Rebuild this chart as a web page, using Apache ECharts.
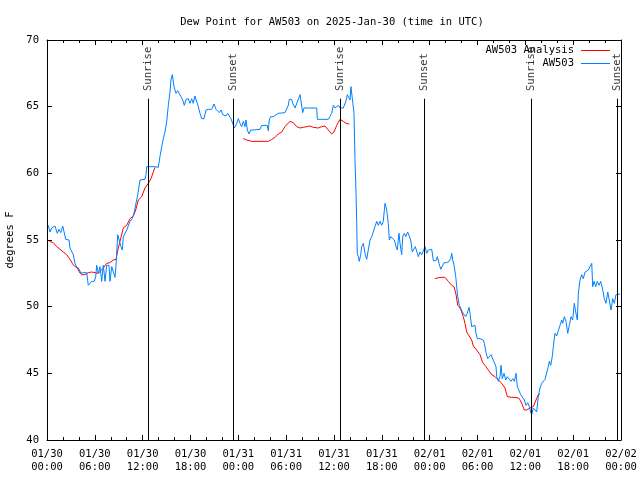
<!DOCTYPE html>
<html>
<head>
<meta charset="utf-8">
<script src="https://cdn.jsdelivr.net/npm/echarts@6/dist/echarts.min.js"></script>
<style>html,body{margin:0;padding:0;background:#fff}#c{width:640px;height:480px}</style>
</head>
<body>
<div id="c"></div>
<script>
// hours since 2025-01-30 00:00 UTC
const blueHours = [0.16,0.38,0.59,1.00,1.29,1.51,1.72,1.97,2.13,2.35,2.60,2.76,2.89,3.10,3.30,3.51,3.73,3.93,4.14,4.35,4.55,4.98,5.18,5.39,5.61,5.93,6.11,6.23,6.44,6.65,6.86,7.06,7.28,7.49,7.78,7.90,8.12,8.32,8.53,8.66,8.87,9.07,9.28,9.45,9.57,9.78,10.00,10.20,10.41,10.70,10.95,11.16,11.38,11.58,11.67,11.88,12.29,12.42,12.51,13.55,13.96,14.17,14.39,14.59,14.80,15.02,15.22,15.43,15.55,15.72,15.93,16.18,16.39,16.60,16.81,17.02,17.22,17.44,17.72,17.94,18.15,18.35,18.56,18.78,18.98,19.19,19.41,19.69,19.95,20.23,20.66,20.95,21.20,21.41,21.61,21.83,22.04,22.24,22.45,22.67,22.87,23.08,23.29,23.50,23.80,24.00,24.21,24.42,24.62,24.84,24.96,25.13,25.34,25.55,25.88,26.09,26.72,26.93,27.63,27.76,27.88,28.06,28.39,28.60,29.01,29.23,29.85,30.07,30.27,30.39,30.69,30.82,30.98,31.11,31.32,31.74,31.95,32.07,32.24,32.45,32.78,33.83,33.91,34.16,34.46,35.29,35.50,35.71,35.91,36.13,36.34,36.54,36.75,37.17,37.51,37.67,37.88,38.01,38.13,38.35,38.51,38.63,38.76,38.85,38.92,39.05,39.17,39.35,39.48,39.68,39.89,40.10,40.30,40.52,40.73,40.93,41.14,41.36,41.56,41.77,41.98,42.18,42.40,42.61,42.81,42.94,43.11,43.36,43.57,43.78,43.94,44.15,44.28,44.49,44.62,44.82,45.00,45.25,45.45,45.62,45.82,46.04,46.20,46.41,46.58,46.79,47.00,47.20,47.42,47.63,47.83,48.04,48.26,48.46,48.80,48.96,49.17,49.39,49.59,49.80,50.14,50.43,50.64,50.77,50.89,51.06,51.27,51.39,51.52,51.72,51.89,52.09,52.31,52.52,52.72,52.93,53.06,53.27,53.47,53.69,53.81,53.98,54.32,54.53,54.73,54.86,55.07,55.28,55.48,55.70,55.91,56.11,56.32,56.41,56.61,56.82,56.95,57.11,57.33,57.54,57.74,57.99,58.20,58.42,58.62,58.83,59.00,59.25,59.42,59.67,59.87,60.09,60.30,60.50,60.67,60.80,61.00,61.21,61.43,61.63,61.84,62.05,62.26,62.47,62.68,62.88,63.01,63.18,63.38,63.51,63.72,63.93,64.14,64.35,64.56,64.69,64.89,65.10,65.32,65.52,65.73,65.94,66.14,66.32,66.52,66.65,66.86,67.07,67.27,67.49,67.70,67.90,68.11,68.33,68.45,68.62,68.83,69.03,69.24,69.46,69.71,69.91,70.12,70.34,70.54,70.75,70.96,71.16,71.37,71.59,71.88];
const blueValues = [56.1,55.6,55.9,56.05,55.5,55.8,55.55,56.05,55.9,55.05,55.05,55.0,54.4,54.25,53.9,53.25,52.95,52.95,52.5,52.4,52.55,52.55,51.6,51.75,51.9,51.9,52.25,53.1,52.5,53.0,51.9,53.1,51.9,53.1,53.1,51.9,53.0,52.6,52.2,53.1,55.4,55.25,54.5,54.25,55.25,55.4,55.75,55.75,56.4,56.6,57.1,57.75,58.4,58.5,59.5,59.55,59.55,59.9,60.5,60.5,60.45,61.25,62.0,62.6,63.1,63.9,65.1,66.1,67.0,67.4,66.5,66.0,66.2,66.1,65.75,65.5,65.1,65.55,65.6,65.25,65.6,65.25,65.8,65.8,65.0,64.5,64.1,64.1,64.75,64.8,64.8,65.2,64.8,64.95,64.55,64.75,64.4,64.55,64.3,64.5,64.6,64.1,64.1,63.4,63.75,64.1,63.75,63.5,63.9,63.5,64.0,63.25,62.95,63.25,63.25,63.4,63.3,63.6,63.6,63.2,64.0,64.25,64.25,64.3,64.5,64.55,64.55,64.6,65.1,65.55,65.55,65.25,65.25,64.9,64.9,65.9,65.9,64.55,64.9,64.75,64.9,64.9,64.05,63.9,64.05,64.05,64.2,64.5,65.1,64.9,64.75,65.1,64.9,64.9,65.45,65.9,65.9,65.5,66.5,66.55,64.5,61.1,58.5,56.25,54.0,53.75,53.4,53.9,54.5,54.75,54.0,53.55,54.25,55.0,55.25,55.4,56.0,56.4,56.1,56.4,56.1,56.4,57.75,57.25,56.25,55.0,55.25,55.1,55.0,54.5,54.25,55.5,54.75,53.9,55.25,55.5,55.25,55.6,55.75,55.0,54.1,54.25,54.5,54.1,53.75,54.1,53.9,54.0,54.5,54.0,54.25,54.3,54.3,53.45,53.45,53.75,53.25,52.8,53.05,53.3,53.3,53.4,53.6,54.0,53.5,53.1,52.25,51.5,50.75,50.1,49.9,49.6,49.6,49.25,49.5,49.95,49.5,48.5,48.4,48.6,48.0,47.6,47.6,47.75,47.5,47.25,46.55,46.1,46.25,46.4,46.25,45.8,45.5,44.75,44.4,44.75,45.6,44.6,45.0,44.5,44.75,44.6,44.4,44.6,44.4,45.0,44.0,44.0,43.4,43.5,43.0,42.6,42.8,42.5,42.1,41.9,42.4,42.5,42.1,43.3,43.9,44.25,44.4,44.55,44.6,45.5,45.9,45.6,46.25,47.0,48.0,47.8,47.9,48.6,49.0,48.75,49.25,48.9,48.0,48.6,49.25,49.0,50.25,49.6,49.0,51.0,52.0,52.4,52.1,52.6,52.5,52.75,53.0,53.25,51.5,51.9,51.5,51.9,51.6,51.9,51.25,50.6,50.25,51.1,51.25,49.75,50.6,50.25,50.9,50.95,50.95];

const redHours = [0.29,0.79,1.22,1.63,2.04,2.47,2.89,3.17,3.51,3.93,4.35,4.77,5.18,5.61,6.02,6.44,6.65,7.06,7.49,7.90,8.32,8.66,8.94,9.28,9.57,10.00,10.41,10.83,11.13,11.45,11.88,12.29,12.71,13.05,13.33,13.55,19.0,24.62,25.05,25.68,27.76,28.19,28.60,29.01,29.44,29.85,30.48,30.90,31.32,31.74,32.15,32.58,32.99,33.40,34.03,34.46,34.87,35.29,35.71,36.00,36.34,36.75,37.17,37.51,37.92,43.0,48.67,49.30,49.92,50.34,50.77,51.06,51.31,51.52,51.81,52.02,52.22,52.43,52.65,52.85,53.06,53.27,53.47,53.90,54.32,54.65,54.94,55.36,55.78,56.20,56.61,57.04,57.45,57.74,58.29,58.83,59.25,59.55,59.87,60.17,60.59,61.00,61.34,61.63,61.84];
const redValues = [54.9,54.8,54.5,54.3,54.1,53.9,53.55,53.25,53.0,52.9,52.4,52.4,52.55,52.6,52.55,52.5,52.4,52.9,53.25,53.3,53.5,53.55,54.4,55.2,55.9,56.1,56.6,56.8,57.25,58.0,58.25,58.9,59.25,59.6,60.1,60.45,'-',62.6,62.5,62.4,62.4,62.55,62.7,62.95,63.1,63.5,63.9,63.8,63.5,63.4,63.45,63.5,63.55,63.45,63.4,63.5,63.55,63.25,62.95,63.1,63.6,64.05,63.9,63.75,63.7,'-',52.1,52.2,52.2,51.9,51.6,51.5,50.9,50.1,49.9,49.6,49.25,48.75,48.1,47.9,47.75,47.5,47.05,46.75,46.4,45.8,45.6,45.25,44.9,44.75,44.5,44.25,43.9,43.25,43.2,43.2,43.1,42.75,42.25,42.25,42.4,42.5,43.0,43.4,43.45];

const sunriseHours = [12.67, 36.75, 60.77];
const sunsetHours = [23.37, 47.35, 71.47];
const dateLabels = ['01/30', '01/31', '02/01', '02/02'];
const seriesNames = ['AW503 Analysis', 'AW503'];
const titleText = 'Dew Point for AW503 on 2025-Jan-30 (time in UTC)';
const yName = 'degrees F';

const FONT = 'DejaVu Sans Mono';
const FS = 10.5;
const SUN_TOP = 65.6;   // top of sun marker lines (degrees F)
const SUN_LABEL = 66.1; // bottom of sun labels (degrees F)

const pairs = (xs, ys) => xs.map((x, i) => [x, ys[i]]);

function sunSeries(hours, name) {
  return {
    type: 'scatter', silent: true, symbolSize: 1,
    itemStyle: { color: 'rgba(0,0,0,0)' },
    data: hours.map(h => [h, SUN_LABEL]),
    label: {
      show: true, formatter: name, position: 'inside', rotate: 90,
      align: 'left', verticalAlign: 'middle', offset: [1, 0],
      color: '#000', fontFamily: FONT, fontSize: FS
    },
    markLine: {
      silent: true, symbol: 'none', animation: false,
      lineStyle: { color: '#000', width: 1, type: 'solid' },
      label: { show: false },
      data: hours.map(h => [{ coord: [h, 40] }, { coord: [h, SUN_TOP] }])
    },
    z: 5
  };
}

const xLabel = v => {
  const d = dateLabels[Math.floor(v / 24)];
  const hh = String(v % 24).padStart(2, '0');
  return d + '\n' + hh + ':00';
};

const axisBase = {
  axisLine: { show: true, onZero: false, lineStyle: { color: '#000', width: 1 } },
  axisTick: { show: true, inside: true, length: 5, lineStyle: { color: '#000' } },
  splitLine: { show: false }
};

const chart = echarts.init(document.getElementById('c'), null, { renderer: 'canvas' });
chart.setOption({
  animation: false,
  backgroundColor: '#fff',
  textStyle: { fontFamily: FONT },
  title: {
    text: titleText, left: 327, top: 12, textAlign: 'center',
    textStyle: { fontFamily: FONT, fontSize: FS, fontWeight: 'normal', color: '#000' }
  },
  legend: {
    data: seriesNames, orient: 'vertical', right: 25, top: 39, align: 'right',
    icon: 'rect', itemWidth: 29, itemHeight: 1, itemGap: 0,
    textStyle: { fontFamily: FONT, fontSize: FS, lineHeight: 13, color: '#000', padding: [0, 2, 0, 0] }
  },
  grid: { left: 47, right: 19, top: 40, bottom: 40, outerBoundsMode: 'none', containLabel: false },
  xAxis: [
    Object.assign({}, axisBase, {
      type: 'value', position: 'bottom', min: 0, max: 72, interval: 6,
      minorTick: { show: true, splitNumber: 3, length: 3, lineStyle: { color: '#000' } },
      axisLabel: { formatter: xLabel, color: '#000', fontFamily: FONT, fontSize: FS, lineHeight: 13, margin: 8 }
    }),
    Object.assign({}, axisBase, {
      type: 'value', position: 'top', min: 0, max: 72, interval: 6,
      minorTick: { show: true, splitNumber: 3, length: 3, lineStyle: { color: '#000' } },
      axisLabel: { show: false }
    })
  ],
  yAxis: [
    Object.assign({}, axisBase, {
      type: 'value', position: 'left', min: 40, max: 70, interval: 5,
      name: yName, nameLocation: 'middle', nameGap: 31, nameRotate: 90,
      nameTextStyle: { color: '#000', fontFamily: FONT, fontSize: FS },
      axisLabel: { color: '#000', fontFamily: FONT, fontSize: FS, margin: 8 }
    }),
    Object.assign({}, axisBase, {
      type: 'value', position: 'right', min: 40, max: 70, interval: 5,
      axisLabel: { show: false }
    })
  ],
  series: [
    {
      name: seriesNames[0], type: 'line', data: pairs(redHours, redValues),
      symbol: 'none', showSymbol: false, connectNulls: false, color: '#ff0000',
      itemStyle: { color: '#ff0000' },
      lineStyle: { width: 1, color: '#ff0000' }, z: 3
    },
    {
      name: seriesNames[1], type: 'line', data: pairs(blueHours, blueValues),
      symbol: 'none', showSymbol: false, color: '#0080ff',
      itemStyle: { color: '#0080ff' },
      lineStyle: { width: 1, color: '#0080ff' }, z: 4
    },
    sunSeries(sunriseHours, 'Sunrise'),
    sunSeries(sunsetHours, 'Sunset')
  ]
});
</script>
</body>
</html>
